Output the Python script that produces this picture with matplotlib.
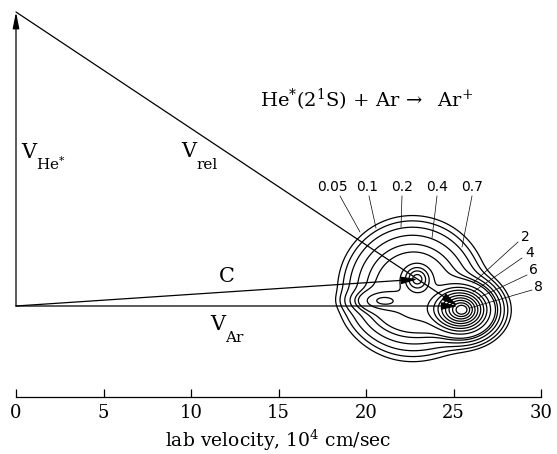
import numpy as np
import matplotlib
matplotlib.use("Agg")
import matplotlib.pyplot as plt

plt.rcParams['mathtext.fontset'] = 'dejavuserif'

# ---------------- data ----------------
m_he, m_ar = 4.0, 40.0           # masses (amu)
v_he = 16.8                      # He* beam velocity (10^4 cm/s), vertical
v_ar = 25.25                     # Ar beam velocity (10^4 cm/s), horizontal
v_cm = (m_ar * v_ar / (m_he + m_ar), m_he * v_he / (m_he + m_ar))

x_ticks = [0, 5, 10, 15, 20, 25, 30]
x_label = 'lab velocity, 10$^4$ cm/sec'
title = 'He$^{*}$(2$^{1}$S) + Ar$\\,\\rightarrow$  Ar$^{+}$'

# contour levels (relative flux)
levels = [0.05, 0.1, 0.2, 0.4, 0.7, 1, 2, 3, 4, 5, 6, 7, 8, 9, 10]
top_labels = ['0.05', '0.1', '0.2', '0.4', '0.7']
side_labels = ['2', '4', '6', '8']

# flux-map components: centre, widths, amplitude, kind
comp_x    = [25.5,  22.65, 22.93, 20.8,  23.3]
comp_y    = [-0.22, 1.0,   1.55,  0.3,   -0.3]
comp_sx   = [1.85,  2.25,  0.48,  0.8,   1.6]
comp_sy   = [1.55,  2.2,   0.48,  0.34,  0.8]
comp_amp  = [11.0,  1.5,   4.0,   1.9,   1.0]
comp_kind = ['softcone', 'super', 'gauss', 'gauss', 'gauss']

# ---------------- layout ----------------
W, H, DPI = 5.57, 4.54, 100
PX = 17.5                    # pixels per unit
X0_PIX, Y0_PIX = 16, 306     # origin pixel position
fig = plt.figure(figsize=(W, H), dpi=DPI)
ax = fig.add_axes([0, 0, 1, 1])
ax.set_xlim(-X0_PIX / PX, (W * DPI - X0_PIX) / PX)
ax.set_ylim((Y0_PIX - H * DPI) / PX, Y0_PIX / PX)

for s in ['top', 'right', 'left']:
    ax.spines[s].set_visible(False)
axis_y = (Y0_PIX - 397) / PX
ax.spines['bottom'].set_position(('data', axis_y))
ax.spines['bottom'].set_bounds(0, 30)
ax.spines['bottom'].set_linewidth(0.9)
ax.set_xticks(x_ticks)
ax.set_xticklabels([str(t) for t in x_ticks], family='DejaVu Serif', fontsize=13)
ax.tick_params(axis='x', direction='in', length=6, width=0.9, pad=5)
ax.set_yticks([])
ax.text(15, (Y0_PIX - 440) / PX, x_label, ha='center', va='center',
        family='DejaVu Serif', fontsize=13.5)

# ---------------- contour map ----------------
gx = np.linspace(16.5, 30.5, 560)
gy = np.linspace(-5.0, 7.0, 480)
GX, GY = np.meshgrid(gx, gy)
Z = np.zeros_like(GX)
K = 7.0
for cx, cy, sx, sy, a, k in zip(comp_x, comp_y, comp_sx, comp_sy, comp_amp, comp_kind):
    d = np.sqrt(((GX - cx) / sx) ** 2 + ((GY - cy) / sy) ** 2)
    if k == 'softcone':
        Z += a * np.logaddexp(0, K * (1 - d)) / np.logaddexp(0, K)
    elif k == 'super':
        Z += a * np.exp(-0.5 * d ** 3)
    else:
        Z += a * np.exp(-0.5 * d ** 2)
ax.contour(GX, GY, Z, levels=levels, colors='black', linewidths=0.9)

# ---------------- vectors ----------------
def arrow(tail, tip, hw=0.16):
    ax.annotate('', xy=tip, xytext=tail,
                arrowprops=dict(arrowstyle=f'-|>,head_length=0.7,head_width={hw}',
                                mutation_scale=14, lw=0.9, color='black',
                                shrinkA=0, shrinkB=0))

arrow((0, 0), (0, v_he), hw=0.14)
arrow((0, 0), (v_ar, 0))
arrow((0, 0), v_cm)
arrow((0, v_he), (v_ar, 0))

# vector labels
def vlabel(xp, yp, main, sub, sub_dx=15, sub_dy=12):
    ax.text((xp - X0_PIX) / PX, (Y0_PIX - yp) / PX, main, family='DejaVu Serif',
            fontsize=15, ha='left', va='baseline')
    if sub:
        ax.text((xp + sub_dx - X0_PIX) / PX, (Y0_PIX - yp - sub_dy) / PX, sub,
                family='DejaVu Serif', fontsize=11, ha='left', va='baseline')

vlabel(21, 158, 'V', 'He$^{*}$')
vlabel(181, 157, 'V', 'rel')
vlabel(219, 282, 'C', None)
vlabel(210, 330, 'V', 'Ar')

ax.text((260 - X0_PIX) / PX, (Y0_PIX - 107) / PX, title, family='DejaVu Serif',
        fontsize=14, ha='left', va='baseline')

# ---------------- contour labels with leaders ----------------
def P(xp, yp):
    return ((xp - X0_PIX) / PX, (Y0_PIX - yp) / PX)

top_pos = [(332, 187), (367, 187), (402, 187), (437, 187), (472, 187)]
top_lead = [((340, 196), (360, 232)), ((369, 196), (376, 228)),
            ((402, 196), (401, 227)), ((437, 196), (432, 238)),
            ((472, 196), (462, 247))]
side_pos = [(525, 237), (530, 253), (533, 270), (538, 287)]
side_lead = [((518, 242), (473, 283)), ((522, 258), (473, 292)),
             ((527, 275), (478, 298)), ((532, 290), (470, 308))]

for lab, pos, ld in zip(top_labels + side_labels, top_pos + side_pos, top_lead + side_lead):
    ax.text(*P(*pos), lab, family='DejaVu Sans', fontsize=10, ha='center', va='center')
    a, b = P(*ld[0]), P(*ld[1])
    ax.plot([a[0], b[0]], [a[1], b[1]], color='black', lw=0.5)

fig.savefig('out.png', dpi=DPI)
